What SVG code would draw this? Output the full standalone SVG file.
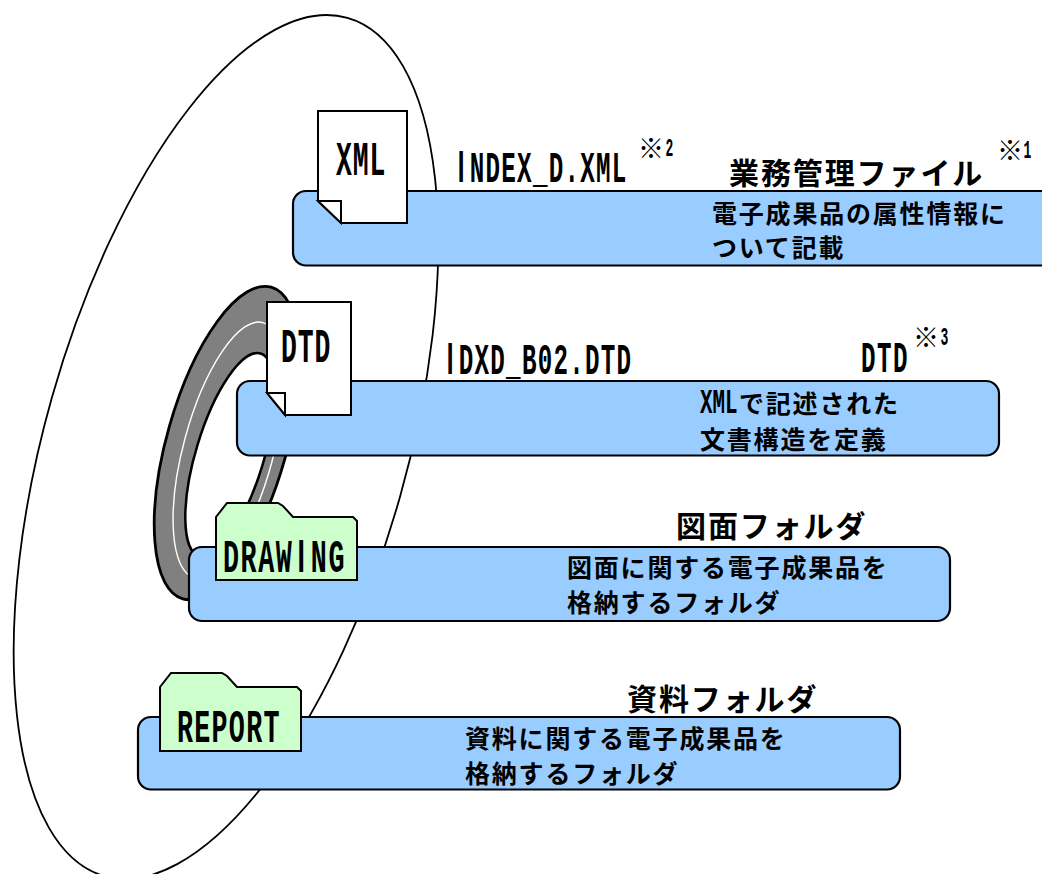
<svg xmlns="http://www.w3.org/2000/svg" width="1042" height="874" viewBox="0 0 1042 874">
<style>
.box{fill:#99ccff;stroke:#000;stroke-width:2.2}
.doc{fill:#fff;stroke:#000;stroke-width:2}
.fold{fill:#ccffcc;stroke:#000;stroke-width:2}
.lat{font-family:"Liberation Mono",monospace;font-weight:bold;fill:#000}
.i{font-family:"Liberation Sans",sans-serif}
.jt{font-family:"Noto Sans CJK JP",sans-serif;font-weight:700;font-size:30px;letter-spacing:1.9px;fill:#000}
.jb{font-family:"Noto Sans CJK JP",sans-serif;font-weight:700;font-size:25px;letter-spacing:1.8px;fill:#000}
.n{font-family:"Noto Sans CJK JP",sans-serif;font-weight:500;font-size:26px;fill:#000}
</style>
<g id="scope">
<ellipse cx="226" cy="447" rx="181" ry="446" transform="rotate(15.8 226 447)" fill="none" stroke="#000" stroke-width="1.8"/>
</g>
<g id="connectors">
<ellipse rx="60" ry="162" transform="translate(227 443) rotate(15.85)" fill="#808080" stroke="#000" stroke-width="2.8"/>
<ellipse rx="34" ry="106" transform="translate(230 455) rotate(16.8)" fill="#fff" stroke="#000" stroke-width="2.5"/>
<ellipse rx="45" ry="132" transform="translate(228.500 450) rotate(15.1)" fill="none" stroke="#fff" stroke-width="1.4"/>
</g>
<g id="node-xml">
<rect class="box" x="293" y="191" width="800" height="74.500" rx="13"/>
<path class="doc" d="M318,111H407V223H341L318,201Z"/>
<path class="doc" d="M318,201H341V223Z"/>
<text class="lat" font-size="48" letter-spacing="1.7" transform="translate(336 175) scale(.55 1)">XML</text>
<text class="lat" font-size="44" letter-spacing="2.3" transform="translate(454 182) scale(.55 1)"><tspan class="i" dx=".16em">I</tspan><tspan dx=".16em">NDEX_D.XML</tspan></text>
<text class="n" x="638" y="158">※</text>
<text class="lat" font-size="26" transform="translate(665.500 156) scale(.5 1)">2</text>
<text class="jt" x="729" y="184">業務管理ファイル</text>
<text class="n" x="997" y="160">※</text>
<text class="lat" font-size="26" transform="translate(1023.500 158) scale(.5 1)">1</text>
<text class="jb" x="712" y="223">電子成果品の属性情報に</text>
<text class="jb" x="712" y="257">ついて記載</text>
</g>
<g id="node-dtd">
<rect class="box" x="237" y="381" width="762" height="74.500" rx="13"/>
<path class="doc" d="M267,302H351V415H285L267,393Z"/>
<path class="doc" d="M267,393H285V415Z"/>
<text class="lat" font-size="48" letter-spacing="1.7" transform="translate(281 362) scale(.55 1)">DTD</text>
<text class="lat" font-size="44" letter-spacing="2.3" transform="translate(443 374) scale(.55 1)"><tspan class="i" dx=".16em">I</tspan><tspan dx=".16em">DXD_B02.DTD</tspan></text>
<text class="lat" font-size="44" letter-spacing="2.7" transform="translate(861 372) scale(.55 1)">DTD</text>
<text class="n" x="913" y="347">※</text>
<text class="lat" font-size="26" transform="translate(940.500 345) scale(.5 1)">3</text>
<text class="lat" font-size="36" transform="translate(700 413) scale(.58 1)">XML</text>
<text class="jb" x="739" y="413">で記述された</text>
<text class="jb" x="700" y="449">文書構造を定義</text>
</g>
<g id="node-drawing">
<rect class="box" x="189" y="547" width="761" height="74" rx="13"/>
<path class="fold" d="M216,517L227,503H278L283,506L293,517H353L357,521V580H216Z"/>
<text class="lat" font-size="46" letter-spacing="2.7" transform="translate(223 572) scale(.58 1)">DRAW<tspan class="i" dx=".16em">I</tspan><tspan dx=".16em">NG</tspan></text>
<text class="jt" x="676" y="537">図面フォルダ</text>
<text class="jb" x="567" y="577">図面に関する電子成果品を</text>
<text class="jb" x="567" y="612">格納するフォルダ</text>
</g>
<g id="node-report">
<rect class="box" x="138" y="717" width="762" height="72.500" rx="13"/>
<path class="fold" d="M160,687L171,673H222L227,676L237,687H297L301,691V751H160Z"/>
<text class="lat" font-size="46" letter-spacing="2.2" transform="translate(177 742) scale(.58 1)">REPORT</text>
<text class="jt" x="627" y="710">資料フォルダ</text>
<text class="jb" x="465" y="748">資料に関する電子成果品を</text>
<text class="jb" x="465" y="783">格納するフォルダ</text>
</g>
</svg>
